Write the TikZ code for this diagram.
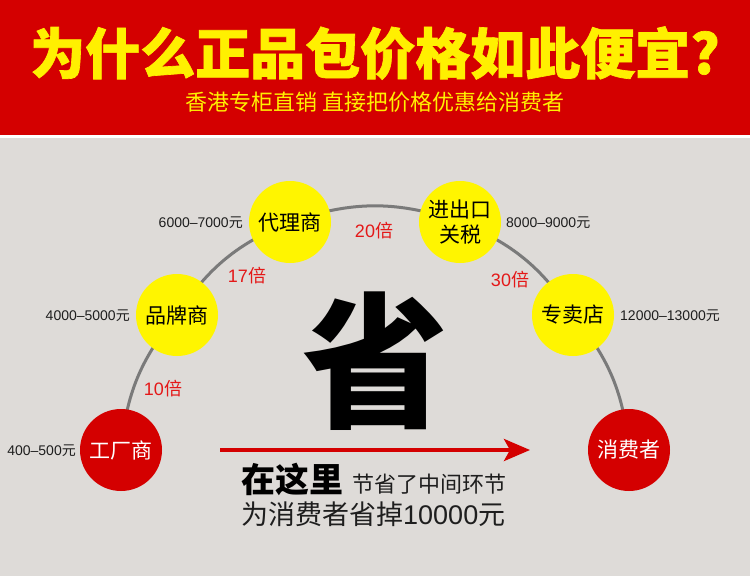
\documentclass[tikz,border=0pt]{standalone}
\usepackage{fontspec}
\setmainfont{Noto Sans CJK SC}
\newfontfamily\lat{Liberation Sans}
\newfontfamily\heavy{Noto Sans CJK SC}[FakeBold=1.2]
\usetikzlibrary{arrows.meta,backgrounds}
\definecolor{hdrred}{RGB}{212,0,0}
\definecolor{ttlyellow}{RGB}{255,240,0}
\definecolor{bggray}{RGB}{222,219,216}
\definecolor{circyellow}{RGB}{255,245,0}
\definecolor{circred}{RGB}{212,0,0}
\definecolor{arcgray}{RGB}{122,122,122}
\definecolor{mulred}{RGB}{228,24,24}
\definecolor{txtdark}{RGB}{30,30,30}
\tikzset{
  ycirc/.style={circle,fill=circyellow,minimum size=82pt,inner sep=0pt,text=black,
    font=\fontsize{21}{25}\selectfont,align=center},
  rcirc/.style={circle,fill=circred,minimum size=82pt,inner sep=0pt,text=white,
    font=\fontsize{21}{25}\selectfont},
  price/.style={inner sep=0pt,text=txtdark,font=\fontsize{14}{14}\selectfont},
  mult/.style={inner sep=0pt,text=mulred,font=\fontsize{18}{18}\selectfont},
  arcline/.style={draw=arcgray,line width=3pt},
}
\begin{document}
\begin{tikzpicture}[x=1pt,y=-1pt]
\useasboundingbox (0,0) rectangle (750,576);
% title texts
\node[anchor=base,inner sep=0pt,text=ttlyellow,font=\fontsize{55}{55}\selectfont\heavy\bfseries] (title) at (375,74) {为什么正品包价格如此便宜?};
\node[anchor=base,inner sep=0pt,text=ttlyellow,font=\fontsize{22}{22}\selectfont] (sub) at (375,110) {香港专柜直销 直接把价格优惠给消费者};
% circles
\node[rcirc] (f) at (121,450) {工厂商};
\node[ycirc] (b) at (177,315) {品牌商};
\node[ycirc] (a) at (290,222) {代理商};
\node[ycirc] (i) at (460,222) {进出口\\关税};
\node[ycirc] (s) at (573,315) {专卖店};
\node[rcirc] (c) at (629,450) {消费者};
% prices
\node[price,anchor=base east] (pf) at (76,455) {{\lat 400–500}元};
\node[price,anchor=base east] (pb) at (130,320) {{\lat 4000–5000}元};
\node[price,anchor=base east] (pa) at (243,227) {{\lat 6000–7000}元};
\node[price,anchor=base west] (pi) at (506,227) {{\lat 8000–9000}元};
\node[price,anchor=base west] (ps) at (620,320) {{\lat 12000–13000}元};
% multipliers
\node[mult,anchor=base] (m1) at (163,395) {{\lat 10}倍};
\node[mult,anchor=base] (m2) at (247,282) {{\lat 17}倍};
\node[mult,anchor=base] (m3) at (374,237) {{\lat 20}倍};
\node[mult,anchor=base] (m4) at (510,286) {{\lat 30}倍};
% big character
\node[inner sep=0pt,text=black,font=\fontsize{146}{146}\selectfont\bfseries] (sheng) at (375,361) {省};
% arrow
\coordinate (arrS) at (220,450);
\coordinate (arrE) at (530,450);
\draw[draw=circred,line width=4pt,-{Stealth[length=26pt,width=22pt,inset=6pt]}] (arrS) -- (arrE);
% bottom texts
\node[anchor=base west,inner sep=0pt,text=black] (here) at (241,492)
  {{\fontsize{34}{34}\selectfont\bfseries 在这里}\hspace{9pt}{\color{txtdark}\fontsize{22}{22}\selectfont 节省了中间环节}};
\node[anchor=base west,inner sep=0pt,text=txtdark,font=\fontsize{27}{27}\selectfont] (save) at (241,524)
  {为消费者省掉{\lat 10000}元};
\begin{scope}[on background layer]
  \fill[hdrred] (0,0) rectangle (750,135);
  \fill[white] (0,135) rectangle (750,138);
  \fill[bggray] (0,138) rectangle (750,576);
  \draw[arcline] (f.center) to[bend left=17] (b.center);
  \draw[arcline] (b.center) to[bend left=17] (a.center);
  \draw[arcline] (a.center) to[bend left=19] (i.center);
  \draw[arcline] (i.center) to[bend left=17] (s.center);
  \draw[arcline] (s.center) to[bend left=17] (c.center);
\end{scope}
\end{tikzpicture}
\end{document}
